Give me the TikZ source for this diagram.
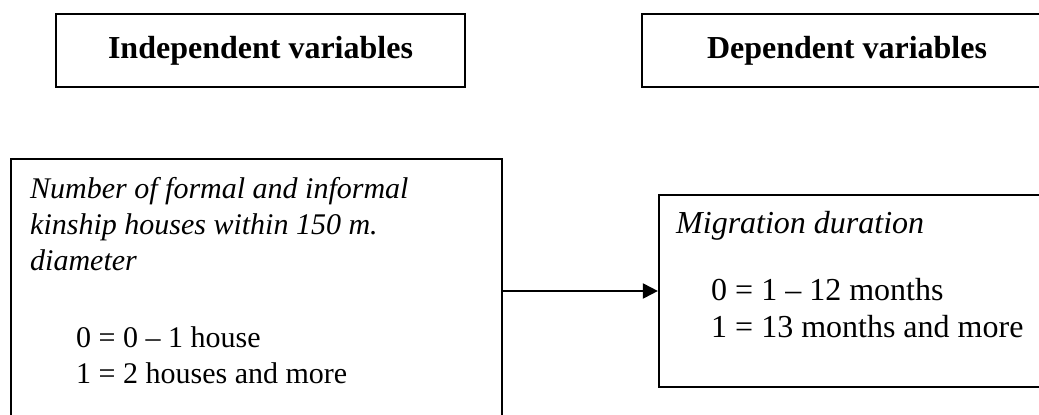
\documentclass[tikz,border=0pt]{standalone}
\usepackage{fontspec}
\setmainfont{Liberation Serif}
\usetikzlibrary{arrows.meta}
\begin{document}
\begin{tikzpicture}[x=1pt,y=-1pt,
  frame/.style={draw=black, line width=2.2pt, rectangle, inner sep=0pt},
  header/.style={frame, font=\fontsize{32}{38}\selectfont\bfseries},
  line/.style={anchor=base west, inner sep=0pt, font=\fontsize{30}{36}\selectfont},
  title/.style={line, font=\fontsize{30}{36}\selectfont\itshape},
  bigline/.style={line, font=\fontsize{32}{38}\selectfont},
  bigtitle/.style={line, font=\fontsize{32}{38}\selectfont\itshape},
  link/.style={line width=2pt, -{Triangle[length=15pt,width=15pt]}}]
\useasboundingbox (0,0) rectangle (1039,415);
\clip (0,0) rectangle (1039,415);
% column headers
\node[header, minimum width=409pt, minimum height=73pt] (hdrIn) at (260.5,50.5) {Independent variables};
\node[header, minimum width=410pt, minimum height=73pt] (hdrDep) at (847,50.5) {Dependent variables};
% variable boxes
\node[frame, minimum width=491pt, minimum height=264pt] (boxIn) at (256.5,291) {};
\node[frame, minimum width=400pt, minimum height=192pt] (boxDep) at (859,291) {};
% independent variable
\node[title] (in1) at (30,198) {Number of formal and informal};
\node[title] (in2) at (30,234) {kinship houses within 150 m.};
\node[title] (in3) at (30,270) {diameter};
\node[line] (in4) at (76,347) {0 = 0 – 1 house};
\node[line] (in5) at (76,383) {1 = 2 houses and more};
% dependent variable
\node[bigtitle] (dep1) at (676,233) {Migration duration};
\node[bigline] (dep2) at (711,300) {0 = 1 – 12 months};
\node[bigline] (dep3) at (711,337) {1 = 13 months and more};
% relation
\draw[link] (boxIn.east) -- (boxDep.west);
\end{tikzpicture}
\end{document}
